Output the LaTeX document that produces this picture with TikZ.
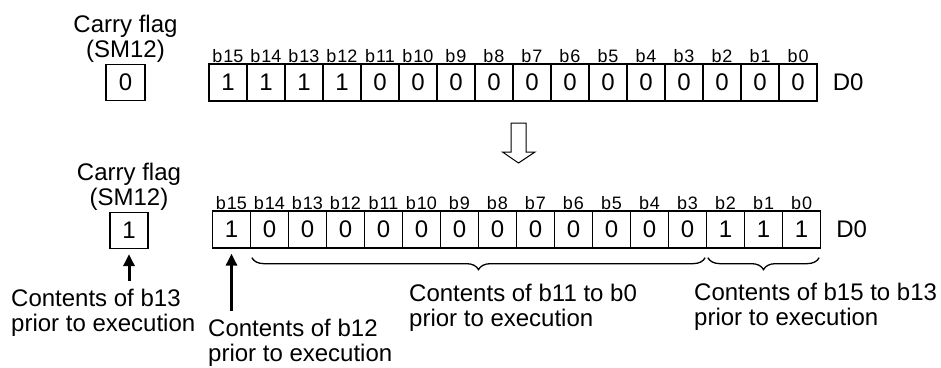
\documentclass[tikz,border=0pt]{standalone}
\usepackage{fontspec}
\setmainfont{Liberation Sans}
\usepackage{tikz}
\usetikzlibrary{positioning,arrows.meta,calc,decorations.pathreplacing}
\newcommand{\figbody}{\fontsize{24}{25}\selectfont}
\newcommand{\figbit}{\fontsize{18}{20}\selectfont}
\definecolor{shInk}{RGB}{0,0,0}
\tikzset{
  shCell/.style={draw=shInk, line width=1.3pt, minimum width=38pt,
    minimum height=37pt, inner sep=0pt, font=\figbody, text=shInk,
    label distance=2.5pt},
  shBit/.style={font=\figbit, text=shInk, inner sep=1pt, text depth=0pt},
  shText/.style={font=\figbody, text=shInk, inner sep=0pt},
  shNote/.style={shText, align=left, anchor=north west},
  shArrow/.style={-{Triangle[width=11pt,length=12pt]}, line width=3pt,
    draw=shInk},
  shBrace/.style={decorate, decoration={brace, mirror, amplitude=12pt},
    line width=1.3pt, draw=shInk},
  shBlock/.style={draw=shInk, line width=1pt, line join=miter}
}
\begin{document}
\begin{tikzpicture}[x=1pt,y=-1pt]
\useasboundingbox (0,0) rectangle (941,367);
\node[shCell,minimum width=39pt,minimum height=36pt] (flagPre) at (125.5,82.5) {0};
\node[shText,align=center,above=1.5pt of flagPre] (flagPreTxt) {Carry flag\\(SM12)};
\foreach \v [count=\i from 0] in {1,1,1,1,0,0,0,0,0,0,0,0,0,0,0,0} {
  \pgfmathtruncatemacro\bit{15-\i}
  \node[shCell,label={[shBit]above:b\kern1pt\bit}] (pre\bit) at ({228+38*\i},82.5) {\v};
}
\node[shText,right=15pt of pre0] (regPre) {D0};
\coordinate (shift) at (518.5,123);
\draw[shBlock] (shift) ++(-7.5,0) -- ++(15,0) -- ++(0,29) -- ++(9,0)
  -- (518.5,163) -- (502.5,152) -- ++(8.5,0) -- cycle;
\node[shCell,minimum width=38pt,minimum height=36pt] (flagPost) at (129,230.5) {1};
\node[shText,align=center,above=1.5pt of flagPost] (flagPostTxt) {Carry flag\\(SM12)};
\foreach \v [count=\i from 0] in {1,0,0,0,0,0,0,0,0,0,0,0,0,1,1,1} {
  \pgfmathtruncatemacro\bit{15-\i}
  \node[shCell,label={[shBit]above:b\kern1pt\bit}] (post\bit) at ({231.5+38*\i},229.5) {\v};
}
\node[shText,right=15pt of post0] (regPost) {D0};
\node[shNote] (note13) at (11,288.5) {Contents of b13\\prior to execution};
\node[shNote] (note12) at (208,318.5) {Contents of b12\\prior to execution};
\node[shNote] (note11) at (409,284) {Contents of b11 to b0\\prior to execution};
\node[shNote] (note15) at (694,283) {Contents of b15 to b13\\prior to execution};
\draw[shArrow,shorten <=8pt,shorten >=5pt] (note13.north -| flagPost) -- (flagPost.south);
\draw[shArrow,shorten <=8pt,shorten >=5pt] (note12.north -| post15) -- (post15.south);
\draw[shBrace] ([xshift=2pt,yshift=-9pt]post14.south west) -- ([xshift=-2pt,yshift=-9pt]post3.south east);
\draw[shBrace] ([xshift=2pt,yshift=-9pt]post2.south west) -- ([xshift=-2pt,yshift=-9pt]post0.south east);
\end{tikzpicture}
\end{document}
